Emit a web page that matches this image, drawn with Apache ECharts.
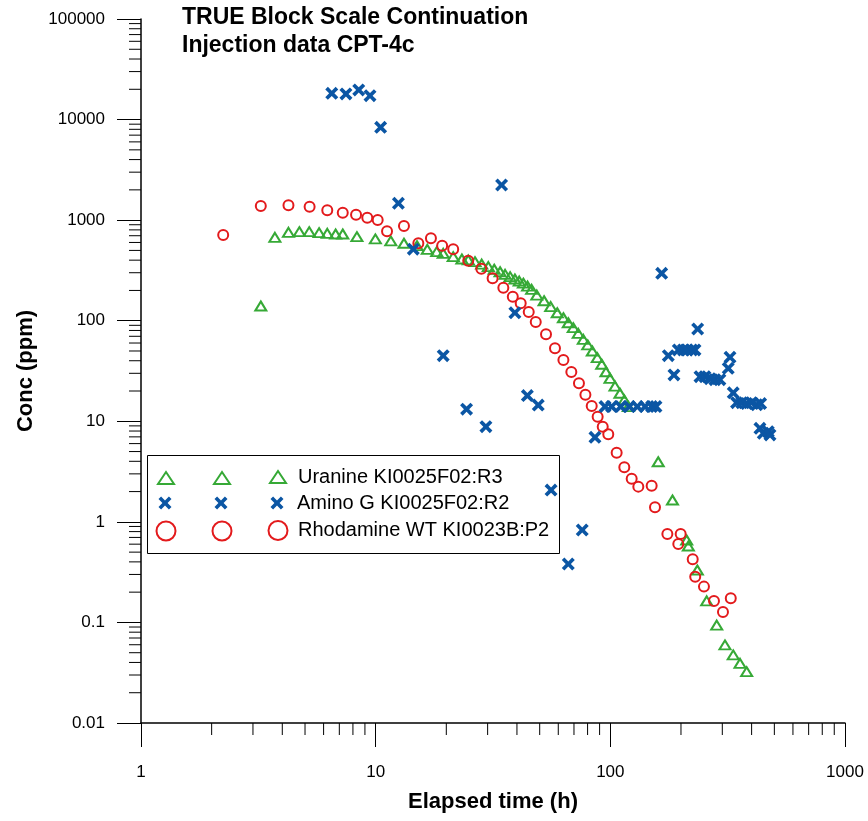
<!DOCTYPE html>
<html><head><meta charset="utf-8">
<script src="https://cdn.jsdelivr.net/npm/echarts@6/dist/echarts.min.js"></script>
<style>html,body{margin:0;padding:0;background:#fff}#c{width:868px;height:821px}</style>
</head><body><div id="c"></div>
<script>
// ---- data (hours, ppm) ----
const uranineName = 'Uranine KI0025F02:R3';
const aminoName = 'Amino G KI0025F02:R2';
const rhodName = 'Rhodamine WT KI0023B:P2';

const uranineX = [3.24,3.72,4.25,4.73,5.21,5.74,6.22,6.75,7.24,8.32,9.97,11.6,13.2,15.0,16.6,18.2,19.4,21.4,23.3,24.8,26.5,28.3,30.2,32.0,33.9,35.6,37.4,39.2,40.9,42.6,44.4,46.2,48.6,52.2,55.7,59.4,63.1,66.2,69.5,73.0,76.7,80.1,83.8,88.0,91.9,95.8,99.7,104.7,109.9,114.7,119.3,160,184,211.5,215,234.8,257.4,284,308,334,357,381];
const uranineY = [140,675,757,768,768,750,740,728,728,685,650,621,589,557,513,486,468,433,411,402,386,366,345,325,307,289,274,260,248,236,221,205,180,158,138,120,107,95.5,85.3,75.0,65.3,57.4,50.0,42.9,36.9,31.1,26.7,22.4,19.0,16.3,14.0,3.96,1.65,0.66,0.575,0.332,0.164,0.094,0.0597,0.0475,0.0392,0.0324];

const rhodX = [2.24,3.24,4.25,5.23,6.22,7.24,8.25,9.21,10.2,11.18,13.2,15.2,17.2,19.2,21.4,24.8,28.2,31.5,35.0,38.4,41.5,44.9,48.1,53.2,58.1,63.1,68.2,73.5,78.3,83.3,88.3,92.8,98.0,106.4,114.7,123.3,131.6,150,155,175,194.8,199.4,224.4,230,250.6,276.5,302,326];
const rhodY = [712,1383,1405,1361,1253,1186,1133,1058,1003,775,875,589,660,557,513,395,329,264,213,173,149,122,97,73.3,53.2,40.7,30.9,23.9,18.4,14.2,11.1,8.83,7.42,4.87,3.49,2.69,2.24,2.29,1.40,0.757,0.602,0.757,0.424,0.285,0.227,0.163,0.127,0.174];

const aminoX = [6.50,7.47,8.47,9.46,10.5,12.5,14.47,19.4,24.4,29.5,34.4,39.2,44.3,49.3,55.9,66.2,75.9,86.0,94.9,101.3,110.7,120.5,130.3,140.6,150,156.5,165.5,176.6,186.7,194.8,204.6,212.8,222.2,229.5,235.6,241,253,266,279,293,318,323.6,334,345,363,381,400,420.6,437,434,448.5,471,479];
const aminoY = [18240,18000,19700,17300,8380,1472,515,44.9,13.2,8.84,2236,120,18.0,14.5,2.07,0.381,0.83,6.93,14.0,14.0,14.0,14.0,14.0,14.0,14.0,14.0,296,44.9,28.9,51.2,51.2,51.2,51.2,51.2,82.7,27.8,27.8,26.5,25.9,25.9,33.6,43.3,19.2,15.3,15.3,15.0,15.3,14.6,15.0,8.51,7.60,7.88,7.31];

// axis ranges and minor tick values
const xMin = 1, xMax = 1000, yMin = 0.01, yMax = 100000;
const minorMult = [2,3,4,5,6,7,8,9];
const xDecades = [1,10,100];
const yDecades = [0.01,0.1,1,10,100,1000,10000];

// ---- styling ----
const GREEN = '#36a936', BLUE = '#0b56a4', RED = '#e31a1c';
const FONT = 'Liberation Sans, Arial, sans-serif';
const crossPath = 'path://M0,2L2,0L5,3L8,0L10,2L7,5L10,8L8,10L5,7L2,10L0,8L3,5Z';

const zip = (xs, ys) => xs.map((x, i) => [x, ys[i]]);
const xMinor = [], yMinor = [];
xDecades.forEach(d => minorMult.forEach(m => xMinor.push([+(d*m).toPrecision(4), yMin])));
yDecades.forEach(d => minorMult.forEach(m => yMinor.push([xMin, +(d*m).toPrecision(4)])));

const fmt = v => String(+(+v).toPrecision(6));

const chart = echarts.init(document.getElementById('c'), null, {renderer: 'canvas'});

// legend: 3 rows x 3 columns of symbols, text in last column
const rows = [
  {name: uranineName, icon: 'triangle', w: 16, h: 12, cy: 477, style: {color: 'rgba(0,0,0,0)', borderColor: GREEN, borderWidth: 2}},
  {name: aminoName, icon: crossPath, w: 13, h: 13, cy: 503, style: {color: BLUE, borderWidth: 0}},
  {name: rhodName, icon: 'circle', w: 19, h: 19, cy: 530, style: {color: 'rgba(0,0,0,0)', borderColor: RED, borderWidth: 2}}
];
const colsX = [165, 221, 277];
const textX = 297;
const legends = [];
rows.forEach(r => {
  colsX.forEach((cx, ci) => {
    const last = ci === colsX.length - 1;
    const left = cx - r.w / 2;
    legends.push({
      orient: 'vertical', padding: 0, selectedMode: false,
      left: left, top: last ? r.cy - 10 : r.cy - r.h / 2,
      itemWidth: r.w, itemHeight: r.h, itemGap: 0,
      data: [{name: r.name, icon: r.icon, itemStyle: r.style}],
      formatter: last ? (n => n) : (() => ''),
      textStyle: {fontFamily: FONT, fontSize: 20, color: '#000', lineHeight: 20,
        padding: last ? [0, 0, 0, textX - (left + r.w + 5)] : 0}
    });
  });
});

const option = {
  backgroundColor: '#fff',
  animation: false,
  title: {
    text: 'TRUE Block Scale Continuation\nInjection data CPT-4c',
    left: 182, top: 4, padding: 0,
    textStyle: {fontFamily: FONT, fontSize: 23, fontWeight: 'bold', color: '#000', lineHeight: 28}
  },
  grid: {left: 141, top: 19, width: 704, height: 704, containLabel: false},
  xAxis: {
    type: 'log', logBase: 10, min: xMin, max: xMax, splitNumber: 3,
    name: 'Elapsed time (h)', nameLocation: 'middle', nameGap: 68,
    nameTextStyle: {fontFamily: FONT, fontSize: 22, fontWeight: 'bold', color: '#000'},
    axisLine: {show: true, lineStyle: {color: '#000', width: 1.5}},
    axisTick: {show: true, inside: false, length: 24, lineStyle: {color: '#000', width: 1}},
    axisLabel: {fontFamily: FONT, fontSize: 17, color: '#000', margin: 41, formatter: fmt, showMinLabel: true, showMaxLabel: true},
    splitLine: {show: false}, minorTick: {show: false}
  },
  yAxis: {
    type: 'log', logBase: 10, min: yMin, max: yMax, splitNumber: 7,
    name: 'Conc (ppm)', nameLocation: 'middle', nameGap: 98,
    nameTextStyle: {fontFamily: FONT, fontSize: 22, fontWeight: 'bold', color: '#000'},
    axisLine: {show: true, lineStyle: {color: '#000', width: 1.5}},
    axisTick: {show: true, inside: false, length: 24, lineStyle: {color: '#000', width: 1}},
    axisLabel: {fontFamily: FONT, fontSize: 17, color: '#000', margin: 36, formatter: fmt, showMinLabel: true, showMaxLabel: true},
    splitLine: {show: false}, minorTick: {show: false}
  },
  legend: legends,
  graphic: [{
    type: 'rect', left: 147, top: 455, z: 1,
    shape: {width: 412, height: 98},
    style: {fill: 'rgba(0,0,0,0)', stroke: '#000', lineWidth: 1}
  }],
  series: [
    {name: uranineName, type: 'scatter', symbol: 'triangle', symbolSize: [11, 9],
     itemStyle: {color: 'rgba(0,0,0,0)', borderColor: GREEN, borderWidth: 2, opacity: 1},
     data: zip(uranineX, uranineY), z: 3},
    {name: rhodName, type: 'scatter', symbol: 'circle', symbolSize: 10,
     itemStyle: {color: 'rgba(0,0,0,0)', borderColor: RED, borderWidth: 2, opacity: 1},
     data: zip(rhodX, rhodY), z: 4},
    {name: aminoName, type: 'scatter', symbol: crossPath, symbolSize: 13,
     itemStyle: {color: BLUE, opacity: 1},
     data: zip(aminoX, aminoY), z: 5},
    {name: 'xMinorTicks', type: 'custom', silent: true, clip: false, z: 1,
     renderItem: (params, api) => {
       const p = api.coord([api.value(0), api.value(1)]);
       return {type: 'line', shape: {x1: p[0], y1: p[1], x2: p[0], y2: p[1] + 12},
               style: {stroke: '#000', lineWidth: 1}};
     },
     data: xMinor},
    {name: 'yMinorTicks', type: 'custom', silent: true, clip: false, z: 1,
     renderItem: (params, api) => {
       const p = api.coord([api.value(0), api.value(1)]);
       return {type: 'line', shape: {x1: p[0] - 12, y1: p[1], x2: p[0], y2: p[1]},
               style: {stroke: '#000', lineWidth: 1}};
     },
     data: yMinor}
  ]
};
chart.setOption(option);
</script>
</body></html>
